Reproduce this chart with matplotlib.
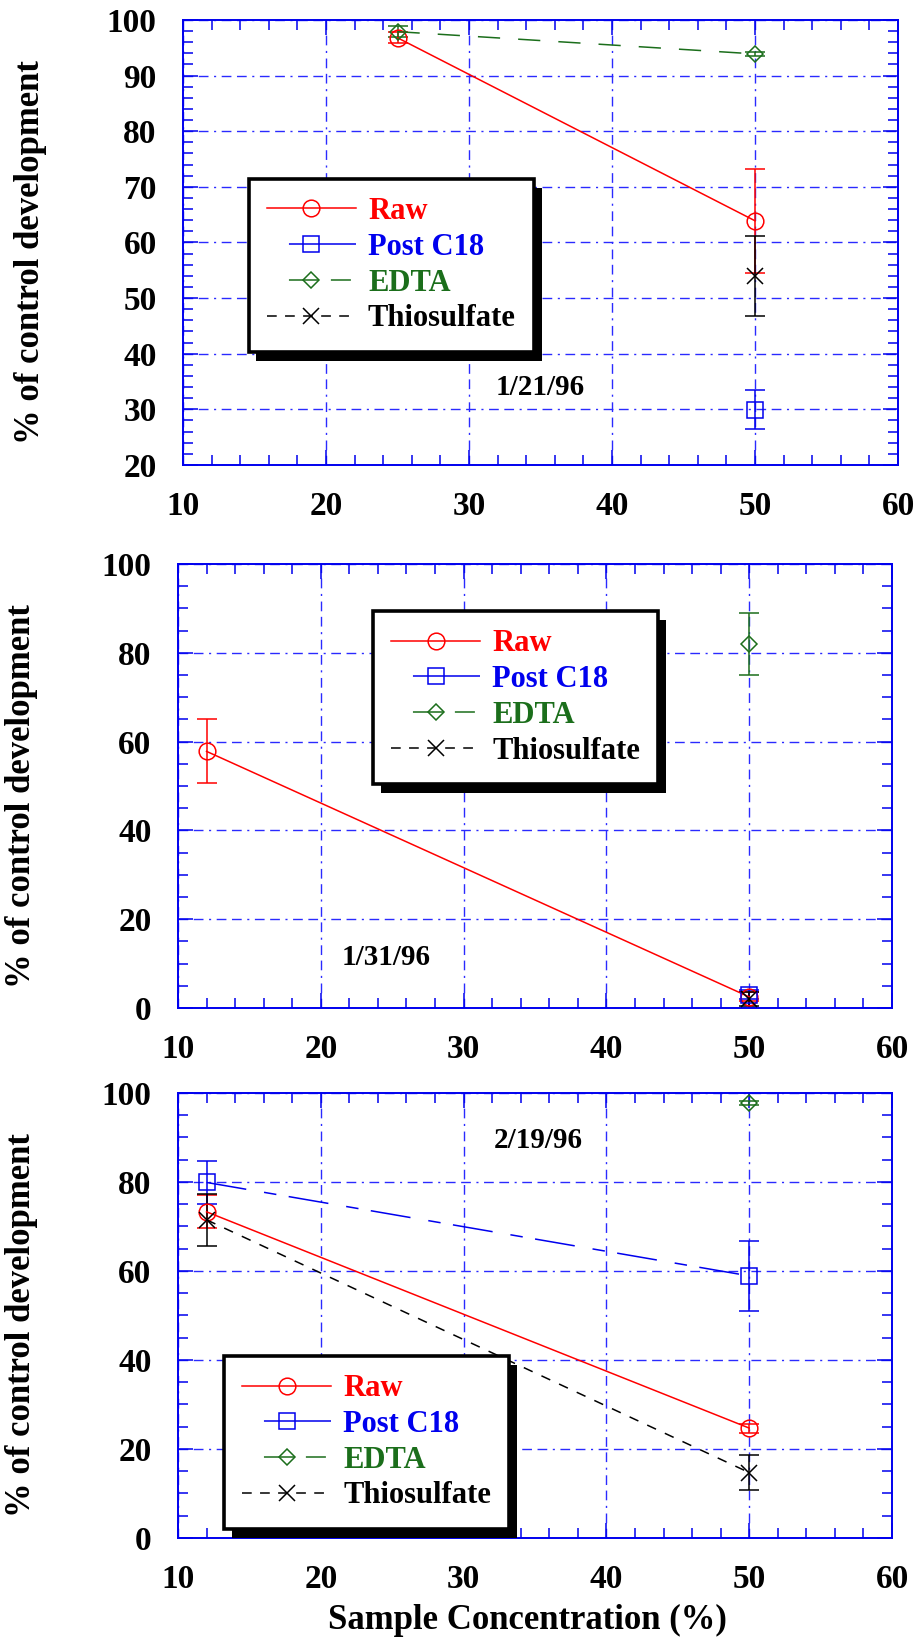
import matplotlib
matplotlib.use('Agg')
import matplotlib.pyplot as plt
from matplotlib.lines import Line2D
from matplotlib.ticker import MultipleLocator
from matplotlib.font_manager import FontProperties
import matplotlib.patheffects as pe

plt.rcParams['font.family'] = ['Liberation Serif', 'DejaVu Serif']
plt.rcParams['font.weight'] = 'bold'
plt.rcParams['lines.scale_dashes'] = False

RED = '#ff0000'
BLUE = '#0000ee'
GREEN = '#1b6e1b'
BLACK = '#000000'
GRIDBLUE = '#2a2aff'

# ---------------- data ----------------
labels = ['Raw', 'Post C18', 'EDTA', 'Thiosulfate']
x_ticks = [10, 20, 30, 40, 50, 60]

# Panel 1 : 1/21/96
p1_raw_x = [25, 50];  p1_raw_y = [96.8, 63.9];  p1_raw_err = [1.0, 9.4]
p1_c18_x = [50];      p1_c18_y = [29.9];        p1_c18_err = [3.5]
p1_edta_x = [25, 50]; p1_edta_y = [97.9, 93.9]; p1_edta_err = [1.0, 0.4]
p1_thio_x = [50];     p1_thio_y = [53.9];       p1_thio_err = [7.2]

# Panel 2 : 1/31/96
p2_raw_x = [12, 50];  p2_raw_y = [57.8, 2.5];   p2_raw_err = [7.2, 1.0]
p2_c18_x = [50];      p2_c18_y = [3.0];         p2_c18_err = [1.0]
p2_edta_x = [50];     p2_edta_y = [82.0];       p2_edta_err = [7.0]
p2_thio_x = [50];     p2_thio_y = [2.0];        p2_thio_err = [1.5]

# Panel 3 : 2/19/96
p3_raw_x = [12, 50];  p3_raw_y = [73.3, 24.7];  p3_raw_err = [3.7, 1.0]
p3_c18_x = [12, 50];  p3_c18_y = [79.9, 58.9];  p3_c18_err = [4.9, 7.9]
p3_edta_x = [50];     p3_edta_y = [97.8];       p3_edta_err = [0.5]
p3_thio_x = [12, 50]; p3_thio_y = [71.5, 14.7]; p3_thio_err = [5.8, 4.0]

styles = {
    'Raw': dict(color=RED, ls='-', marker='o', ms=12),
    'Post C18': dict(color=BLUE, ls=(0, (29, 13, 9, 9)), marker='s', ms=11),
    'EDTA': dict(color=GREEN, ls=(0, (16, 13)), marker='D', ms=8),
    'Thiosulfate': dict(color=BLACK, ls=(0, (7, 7)), marker='x', ms=12),
}
leg_styles = {
    'Raw': dict(color=RED, ls='-', marker='o', ms=12),
    'Post C18': dict(color=BLUE, ls=(0, (0, 15.8, 60, 1)), marker='s', ms=11),
    'EDTA': dict(color=GREEN, ls=(0, (0, 15.8, 21.6, 8.6, 14.4, 40)), marker='D', ms=8),
    'Thiosulfate': dict(color=BLACK, ls=(0, (7, 6)), marker='x', ms=12),
}

SERIF = ['Liberation Serif', 'DejaVu Serif']

fig = plt.figure(figsize=(9.16, 16.37), dpi=100)

axes_pos = [
    [0.1998, 0.71595, 0.7806, 0.27184],
    [0.1943, 0.38424, 0.7795, 0.27123],
    [0.1943, 0.06048, 0.7795, 0.27184],
]


def plot_series(ax, name, xs, ys, errs):
    st = styles[name]
    ax.errorbar(xs, ys, yerr=errs, color=st['color'], ls=st['ls'], lw=1.1,
                marker=st['marker'], ms=st['ms'], mfc='none', mec=st['color'],
                mew=1.1, capsize=7, capthick=1.1, elinewidth=1.1, zorder=3,
                clip_on=False)


def style_axes(ax, ylim, ymajor, yminor):
    ax.set_xlim(10, 60)
    ax.set_ylim(*ylim)
    ax.set_xticks(x_ticks)
    ax.xaxis.set_minor_locator(MultipleLocator(2))
    ax.yaxis.set_major_locator(MultipleLocator(ymajor))
    ax.yaxis.set_minor_locator(MultipleLocator(yminor))
    for sp in ax.spines.values():
        sp.set_color(BLUE)
        sp.set_linewidth(1.4)
    ax.tick_params(which='both', direction='in', top=True, right=True,
                   color=BLUE, width=1.1)
    ax.tick_params(which='major', length=11)
    ax.tick_params(which='minor', length=7)
    ax.tick_params(axis='x', which='major', pad=18.5, labelsize=24)
    ax.tick_params(axis='y', which='major', pad=19, labelsize=24)
    for lab in ax.get_xticklabels() + ax.get_yticklabels():
        lab.set_fontweight('bold')
        lab.set_family(SERIF)
    ax.grid(True, which='major', color=GRIDBLUE, lw=1.0,
            ls=(0, (7, 4, 7, 4, 1.5, 4)))
    ax.set_axisbelow(True)


def add_legend(ax, anchor):
    handles = [Line2D([], [], lw=1.1, mfc='none', mew=1.1, **leg_styles[n]) for n in labels]
    fp = FontProperties(family=SERIF, weight='bold', size=22)
    leg = ax.legend(handles, labels, loc='upper left', bbox_to_anchor=anchor,
                    borderaxespad=0, labelcolor='linecolor',
                    handlelength=2.9, handletextpad=0.4, labelspacing=0.22,
                    borderpad=0.6, fancybox=False, framealpha=1,
                    edgecolor='black', prop=fp)
    fr = leg.get_frame()
    fr.set_linewidth(2.6)
    fr.set_path_effects([pe.SimplePatchShadow(offset=(5.5, -6.5), shadow_rgbFace='black', alpha=1.0),
                         pe.Normal()])
    leg.set_zorder(6)
    return leg


def ylab(ax, xc, yc):
    ax.set_ylabel('% of control development', fontsize=25, fontweight='bold', family=SERIF)
    ax.yaxis.set_label_coords(xc, yc)


# Panel 1
ax1 = fig.add_axes(axes_pos[0])
plot_series(ax1, 'Raw', p1_raw_x, p1_raw_y, p1_raw_err)
plot_series(ax1, 'Post C18', p1_c18_x, p1_c18_y, p1_c18_err)
plot_series(ax1, 'EDTA', p1_edta_x, p1_edta_y, p1_edta_err)
plot_series(ax1, 'Thiosulfate', p1_thio_x, p1_thio_y, p1_thio_err)
style_axes(ax1, (20, 100), 10, 2)
add_legend(ax1, (0.092, 0.643))
ax1.text(35, 34, '1/21/96', ha='center', va='center', fontsize=21, fontweight='bold', family=SERIF)
ylab(ax1, -0.190, 0.479)

# Panel 2
ax2 = fig.add_axes(axes_pos[1])
plot_series(ax2, 'Raw', p2_raw_x, p2_raw_y, p2_raw_err)
plot_series(ax2, 'Post C18', p2_c18_x, p2_c18_y, p2_c18_err)
plot_series(ax2, 'EDTA', p2_edta_x, p2_edta_y, p2_edta_err)
plot_series(ax2, 'Thiosulfate', p2_thio_x, p2_thio_y, p2_thio_err)
style_axes(ax2, (0, 100), 20, 5)
add_legend(ax2, (0.273, 0.894))
ax2.text(24.6, 11.3, '1/31/96', ha='center', va='center', fontsize=21, fontweight='bold', family=SERIF)
ylab(ax2, -0.196, 0.477)

# Panel 3
ax3 = fig.add_axes(axes_pos[2])
plot_series(ax3, 'Raw', p3_raw_x, p3_raw_y, p3_raw_err)
plot_series(ax3, 'Post C18', p3_c18_x, p3_c18_y, p3_c18_err)
plot_series(ax3, 'EDTA', p3_edta_x, p3_edta_y, p3_edta_err)
plot_series(ax3, 'Thiosulfate', p3_thio_x, p3_thio_y, p3_thio_err)
style_axes(ax3, (0, 100), 20, 5)
add_legend(ax3, (0.0644, 0.409))
ax3.text(35.2, 89.4, '2/19/96', ha='center', va='center', fontsize=21, fontweight='bold', family=SERIF)
ylab(ax3, -0.196, 0.479)
ax3.set_xlabel('Sample Concentration (%)', fontsize=25, fontweight='bold', family=SERIF)
ax3.xaxis.set_label_coords(0.489, -0.148)
ax3.xaxis.label.set_va('top')

fig.savefig('out.png', dpi=100)
